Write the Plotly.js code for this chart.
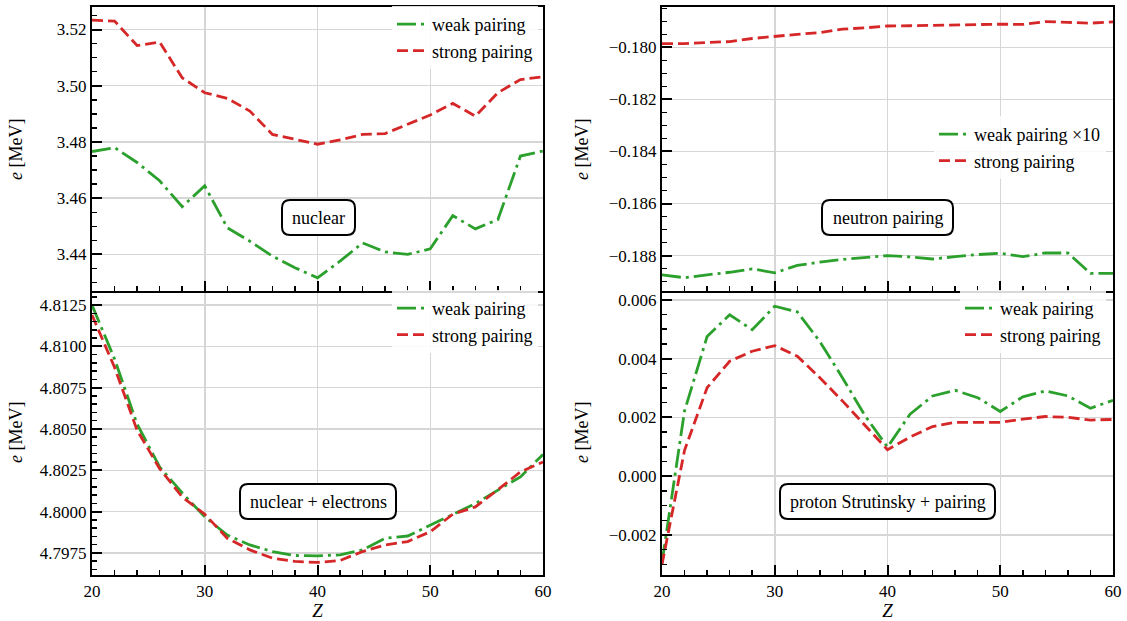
<!DOCTYPE html>
<html>
<head>
<meta charset="utf-8">
<script src="https://cdn.plot.ly/plotly-3.0.1.min.js"></script>
<style>html,body{margin:0;padding:0;background:#fff;}#chart{width:1127px;height:621px;}</style>
</head>
<body>
<div id="chart"></div>
<script>
// ---- data ----
const Z = [20,22,24,26,28,30,32,34,36,38,40,42,44,46,48,50,52,54,56,58,60];

const nuclearWeak   = [3.4766,3.4780,3.4727,3.4662,3.4570,3.4644,3.4495,3.4447,3.4394,3.4353,3.4317,3.4376,3.4441,3.4409,3.4400,3.4420,3.4538,3.4491,3.4524,3.4750,3.4768];
const nuclearStrong = [3.5233,3.5230,3.5143,3.5155,3.5028,3.4975,3.4955,3.4910,3.4827,3.4810,3.4792,3.4807,3.4827,3.4830,3.4863,3.4896,3.4937,3.4892,3.4975,3.5022,3.5032];

const neutronWeak   = [-0.18874,-0.18885,-0.18874,-0.18864,-0.18851,-0.18866,-0.18838,-0.18825,-0.18815,-0.18808,-0.18800,-0.18805,-0.18813,-0.18804,-0.18796,-0.18791,-0.18804,-0.18790,-0.18790,-0.18868,-0.18868];
const neutronStrong = [-0.17986,-0.17986,-0.17981,-0.17978,-0.17966,-0.17957,-0.17950,-0.17943,-0.17930,-0.17925,-0.17918,-0.17917,-0.17915,-0.17913,-0.17912,-0.17911,-0.17912,-0.17901,-0.17904,-0.17907,-0.17902];

const elecWeak   = [4.81250,4.80924,4.80530,4.80270,4.80113,4.79968,4.79858,4.79798,4.79758,4.79734,4.79732,4.79738,4.79768,4.79838,4.79852,4.79918,4.79984,4.80048,4.80130,4.80210,4.80346];
const elecStrong = [4.81190,4.80873,4.80492,4.80260,4.80088,4.79984,4.79838,4.79768,4.79718,4.79698,4.79692,4.79704,4.79758,4.79798,4.79818,4.79878,4.79984,4.80028,4.80132,4.80240,4.80300];

const protonWeak   = [-0.00294,0.00222,0.00475,0.00549,0.00498,0.00578,0.00559,0.00458,0.00335,0.00206,0.00099,0.00211,0.00273,0.00292,0.00267,0.00220,0.00270,0.00290,0.00273,0.00231,0.00258];
const protonStrong = [-0.00300,0.00088,0.00301,0.00391,0.00425,0.00444,0.00408,0.00335,0.00256,0.00172,0.00090,0.00133,0.00169,0.00183,0.00183,0.00183,0.00194,0.00203,0.00200,0.00191,0.00193];

const weakLabel = "weak pairing";
const weakLabel10 = "weak pairing ×10";
const strongLabel = "strong pairing";
const panelLabels = ["nuclear", "neutron pairing", "nuclear + electrons", "proton Strutinsky + pairing"];
const yTitle = "<i>e</i> [MeV]";
const xTitle = "<i>Z</i>";

// ---- style ----
const W = 1127, H = 621;
const FONT = "Liberation Serif";
const GREEN = "#2ca02c", RED = "#d62728";
const weakLine = {color: GREEN, width: 2.8, dash: "19px,5px,3px,5px"};
const strongLine = {color: RED, width: 2.8, dash: "11px,5px"};

function px(x){ return x / W; }
function py(y){ return 1 - y / H; }

const traces = [
  {x: Z, y: nuclearWeak, xaxis: "x", yaxis: "y", name: weakLabel, mode: "lines", line: weakLine, legend: "legend"},
  {x: Z, y: nuclearStrong, xaxis: "x", yaxis: "y", name: strongLabel, mode: "lines", line: strongLine, legend: "legend"},
  {x: Z, y: neutronWeak, xaxis: "x2", yaxis: "y2", name: weakLabel10, mode: "lines", line: weakLine, legend: "legend2"},
  {x: Z, y: neutronStrong, xaxis: "x2", yaxis: "y2", name: strongLabel, mode: "lines", line: strongLine, legend: "legend2"},
  {x: Z, y: elecWeak, xaxis: "x3", yaxis: "y3", name: weakLabel, mode: "lines", line: weakLine, legend: "legend3"},
  {x: Z, y: elecStrong, xaxis: "x3", yaxis: "y3", name: strongLabel, mode: "lines", line: strongLine, legend: "legend3"},
  {x: Z, y: protonWeak, xaxis: "x4", yaxis: "y4", name: weakLabel, mode: "lines", line: weakLine, legend: "legend4"},
  {x: Z, y: protonStrong, xaxis: "x4", yaxis: "y4", name: strongLabel, mode: "lines", line: strongLine, legend: "legend4"}
];

const colL = [px(92), px(543)], colR = [px(662), px(1113)];
const rowT = [py(291), py(7)], rowB = [py(575), py(293)];

function axBase(){
  return {
    showline: true, linecolor: "black", linewidth: 2, mirror: true,
    ticks: "inside", ticklen: 10, tickwidth: 2, tickcolor: "black",
    showgrid: true, gridcolor: "#d6d6d6", gridwidth: 1.5,
    zeroline: false, fixedrange: true,
    tickfont: {family: FONT, size: 17, color: "black"}
  };
}
function xAx(domain, anchor, labels){
  return Object.assign(axBase(), {
    domain: domain, anchor: anchor, range: [20, 60], tick0: 20, dtick: 10,
    minor: {ticks: "inside", ticklen: 5, tickwidth: 1.5, tickcolor: "black", dtick: 2, showgrid: false},
    showticklabels: labels,
    title: labels ? {text: xTitle, font: {family: FONT, size: 19, color: "black"}, standoff: 4} : undefined
  });
}
function yAx(domain, anchor, range, tick0, dtick, mdtick, fmt){
  return Object.assign(axBase(), {
    domain: domain, anchor: anchor, range: range, tick0: tick0, dtick: dtick, tickformat: fmt,
    minor: {ticks: "inside", ticklen: 5, tickwidth: 1.5, tickcolor: "black", dtick: mdtick, tick0: tick0, showgrid: false}
  });
}

function legendAt(xpix, ypix){
  return {x: px(xpix), y: py(ypix), xanchor: "left", yanchor: "top",
    bgcolor: "rgba(255,255,255,0.85)", borderwidth: 0,
    font: {family: FONT, size: 18, color: "black"}, itemwidth: 30, tracegroupgap: 0};
}

function roundBox(x0, y0, x1, y1, r){
  const rx = r / W, ry = r / H;
  const a = px(x0), b = px(x1), t = py(y0), u = py(y1);
  return {
    type: "path", xref: "paper", yref: "paper",
    path: `M ${a+rx} ${t} L ${b-rx} ${t} Q ${b} ${t} ${b} ${t-ry} L ${b} ${u+ry} Q ${b} ${u} ${b-rx} ${u} L ${a+rx} ${u} Q ${a} ${u} ${a} ${u+ry} L ${a} ${t-ry} Q ${a} ${t} ${a+rx} ${t} Z`,
    line: {color: "black", width: 2}, fillcolor: "white", layer: "above"
  };
}
const boxes = [[282,200,355,235],[822,200,953,235],[240,484,396,519],[780,484,995,519]];

const annotations = boxes.map((bx, i) => ({
  xref: "paper", yref: "paper", x: px((bx[0]+bx[2])/2), y: py((bx[1]+bx[3])/2),
  xanchor: "center", yanchor: "middle", showarrow: false, text: panelLabels[i],
  font: {family: FONT, size: 18, color: "black"}
}));
[[16,150],[16,433],[582,150],[582,433]].forEach(p => annotations.push({
  xref: "paper", yref: "paper", x: px(p[0]), y: py(p[1]), xanchor: "center", yanchor: "middle",
  showarrow: false, textangle: -90, text: yTitle, font: {family: FONT, size: 18, color: "black"}
}));

const layout = {
  width: W, height: H, margin: {l: 0, r: 0, t: 0, b: 0},
  paper_bgcolor: "white", plot_bgcolor: "white",
  font: {family: FONT, size: 17, color: "black"},
  xaxis: xAx(colL, "y", false),
  yaxis: yAx(rowT, "x", [3.427, 3.528], 3.44, 0.02, 0.005, ".2f"),
  xaxis2: xAx(colR, "y2", false),
  yaxis2: yAx(rowT, "x2", [-0.18936, -0.17845], -0.188, 0.002, 0.0005, ".3f"),
  xaxis3: xAx(colL, "y3", true),
  yaxis3: yAx(rowB, "x3", [4.79616, 4.81323], 4.7975, 0.0025, 0.0005, ".4f"),
  xaxis4: xAx(colR, "y4", true),
  yaxis4: yAx(rowB, "x4", [-0.00336, 0.00623], -0.002, 0.002, 0.0005, ".3f"),
  legend: legendAt(392, 6),
  legend2: legendAt(934, 116),
  legend3: legendAt(392, 290),
  legend4: legendAt(960, 290),
  shapes: boxes.map(b => roundBox(b[0], b[1], b[2], b[3], 8)),
  annotations: annotations,
  showlegend: true
};

Plotly.newPlot("chart", traces, layout, {displayModeBar: false, staticPlot: true});
</script>
</body>
</html>
